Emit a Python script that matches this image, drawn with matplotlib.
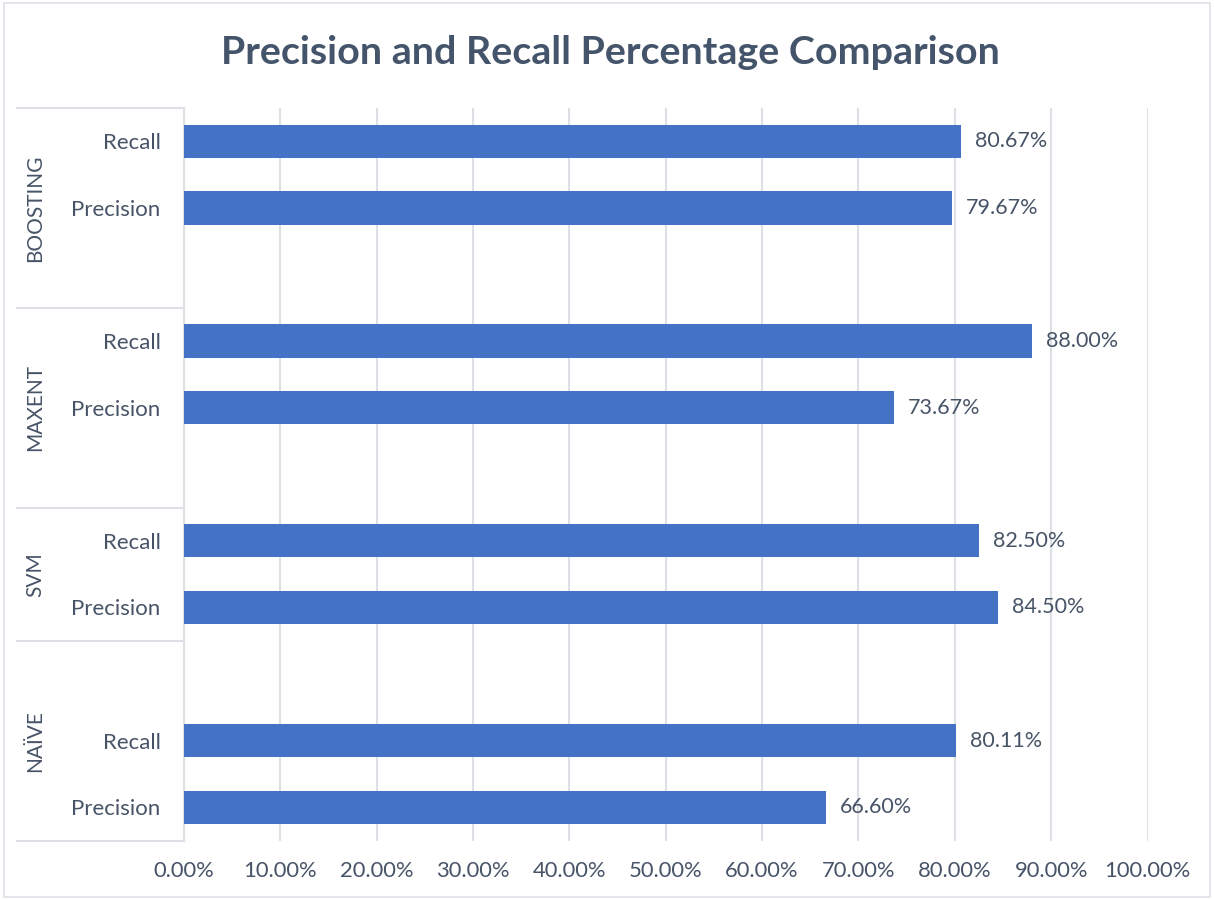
import matplotlib
matplotlib.use("Agg")
import matplotlib.pyplot as plt
from matplotlib.patches import Rectangle
from matplotlib.ticker import FuncFormatter
import numpy as np

# model groups, from bottom of the chart to the top
groups = ["NAÏVE", "SVM", "MAXENT", "BOOSTING"]
# category rows of each group (None is an empty row in the source table)
group_rows = [
    ["Precision", "Recall", None],
    ["Precision", "Recall"],
    [None, "Precision", "Recall"],
    [None, "Precision", "Recall"],
]
group_values = [
    [66.60, 80.11, None],
    [84.50, 82.50],
    [None, 73.67, 88.00],
    [None, 79.67, 80.67],
]
x_ticks = [0, 10, 20, 30, 40, 50, 60, 70, 80, 90, 100]

TITLE_COLOR = "#44546A"
TEXT_COLOR = "#475467"
BAR_COLOR = "#4472C4"
GRID_COLOR = "#DDE1E6"

plt.rcParams["font.family"] = ["Lato", "DejaVu Sans"]

fig = plt.figure(figsize=(12.14, 8.99), dpi=100)
fig.patches.append(Rectangle((0.003, 0.002), 0.994, 0.995, transform=fig.transFigure,
                             fill=False, edgecolor=GRID_COLOR, linewidth=1.2))

ax = fig.add_axes([184 / 1214, 58.5 / 899, 963.5 / 1214, 732.5 / 899])

# flatten the groups into one row per slot
labels, values, bounds = [], [], [-0.5]
for rows, vals in zip(group_rows, group_values):
    labels += rows
    values += vals
    bounds.append(len(labels) - 0.5)
pos = np.arange(len(labels))

for y, v in zip(pos, values):
    if v is None:
        continue
    ax.barh(y, v, height=0.5, color=BAR_COLOR, zorder=3)
    ax.annotate(f"{v:.2f}%", (v, y), xytext=(10, 0), textcoords="offset points",
                ha="left", va="center", fontsize=15.5, color=TEXT_COLOR)

ax.set_xlim(0, 100)
ax.set_ylim(-0.5, len(labels) - 0.5)
ax.set_xticks(x_ticks)
ax.xaxis.set_major_formatter(FuncFormatter(lambda v, p: f"{v:.2f}%"))
ax.set_yticks(pos, [l if l else "" for l in labels])
ax.tick_params(axis="x", length=0, pad=15, labelsize=15.8, labelcolor=TEXT_COLOR)
ax.tick_params(axis="y", length=0, pad=17, labelsize=16, labelcolor=TEXT_COLOR)

ax.grid(axis="x", color=GRID_COLOR, linewidth=1.5, zorder=0)
for s in ["top", "right", "bottom"]:
    ax.spines[s].set_visible(False)
ax.spines["left"].set_color(GRID_COLOR)
ax.spines["left"].set_linewidth(1.5)

# group separators and rotated group names on the category axis
trans = ax.get_yaxis_transform()
x_sep = (17 - 184) / 963.5
for b in bounds:
    ax.plot([x_sep, 0], [b, b], color=GRID_COLOR, linewidth=1.5,
            transform=trans, clip_on=False)
for name, lo, hi in zip(groups, bounds[:-1], bounds[1:]):
    ax.text((35 - 184) / 963.5, (lo + hi) / 2, name, rotation=90, ha="center",
            va="center", fontsize=15, color=TEXT_COLOR, transform=trans)

fig.text(0.503, 0.942, "Precision and Recall Percentage Comparison", ha="center",
         va="center", fontsize=28.4, fontweight="bold", color=TITLE_COLOR)

fig.savefig("out.png", dpi=100)
